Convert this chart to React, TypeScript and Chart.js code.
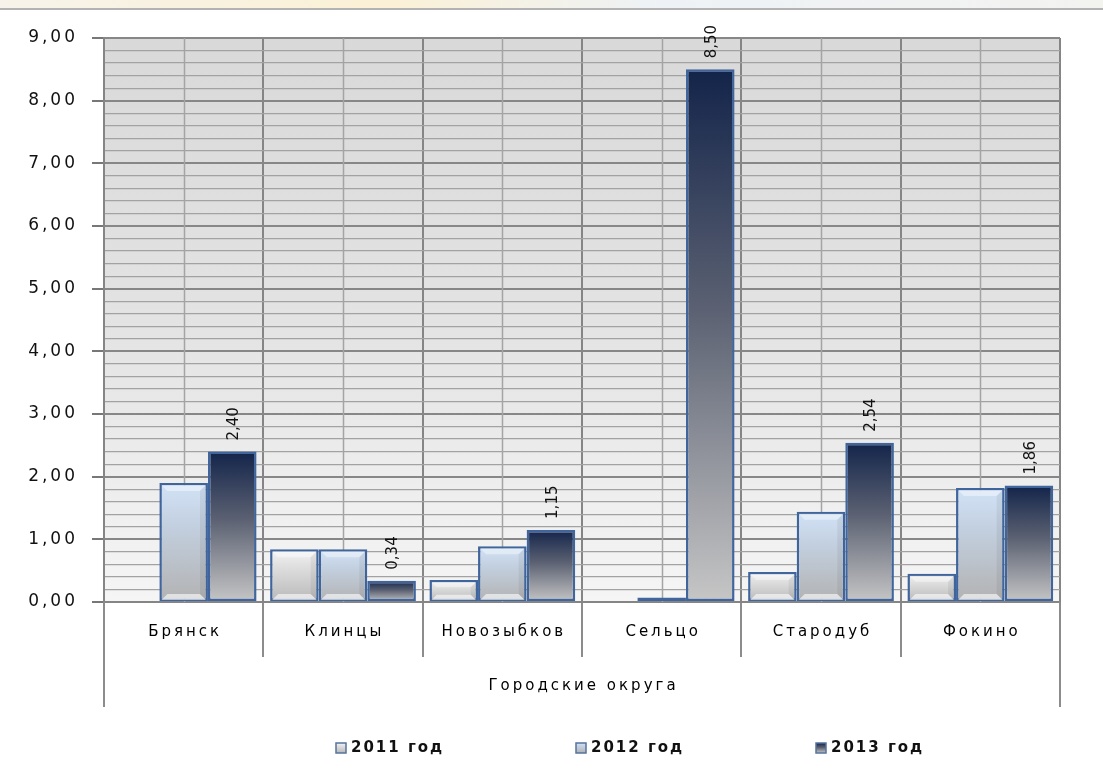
import React, { useEffect, useRef } from 'react';
import { Chart, registerables } from 'chart.js';

Chart.register(...registerables);

// ---------- data ----------
const categories = ['Брянск', 'Клинцы', 'Новозыбков', 'Сельцо', 'Стародуб', 'Фокино'];
const groupLabel = 'Городские округа';
const seriesNames = ['2011 год', '2012 год', '2013 год'];
const values2011: (number | null)[] = [null, 0.84, 0.35, null, 0.48, 0.45];
const values2012: (number | null)[] = [1.9, 0.84, 0.89, 0.07, 1.44, 1.82];
const values2013: (number | null)[] = [2.4, 0.34, 1.15, 8.5, 2.54, 1.86];
const yMin = 0;
const yMax = 9;
const yStep = 0.2;

// ---------- styles ----------
const W = 1103;
const H = 781;
const FONT = '"DejaVu Sans", Verdana, sans-serif';
const BAR_BORDER = '#3f659c';
const gradStops: [number, string][][] = [
  [[0, '#f5f5f5'], [0.3, '#e0e0e0'], [1, '#b8b8b8']],
  [[0, '#d2e3f7'], [0.35, '#c3d0e0'], [1, '#b2b2b2']],
  [[0, '#13244a'], [0.45, '#5b6172'], [1, '#c6c6c6']],
];
const legendX = [336, 576, 816];
const legendY = 748;

const fmt = (v: number) => v.toFixed(2).replace('.', ',');
const isMajor = (v: number) => Math.abs(v - Math.round(v)) < 1e-6;

function makeGrad(ctx: CanvasRenderingContext2D, stops: [number, string][], y0: number, y1: number) {
  const g = ctx.createLinearGradient(0, y0, 0, y1);
  stops.forEach(([o, c]) => g.addColorStop(o, c));
  return g;
}

function spacedText(ctx: CanvasRenderingContext2D, text: string, x: number, y: number, spacing: number, align: CanvasTextAlign) {
  (ctx as any).letterSpacing = spacing + 'px';
  ctx.textAlign = align;
  let dx = 0;
  if (align === 'center') dx = spacing / 2;
  if (align === 'right') dx = spacing;
  ctx.fillText(text, x + dx, y);
  (ctx as any).letterSpacing = '0px';
}

const decorPlugin = {
  id: 'decor',
  beforeDraw(chart: any) {
    const ctx: CanvasRenderingContext2D = chart.ctx;
    const { left, right, top, bottom } = chart.chartArea;
    ctx.save();
    ctx.fillStyle = '#ffffff';
    ctx.fillRect(0, 0, W, H);
    const tg = ctx.createLinearGradient(0, 0, W, 0);
    tg.addColorStop(0, '#f7f3ea');
    tg.addColorStop(0.35, '#fbf1d6');
    tg.addColorStop(0.6, '#eef2f6');
    tg.addColorStop(1, '#f3f3f0');
    ctx.fillStyle = tg;
    ctx.fillRect(0, 0, W, 8);
    ctx.strokeStyle = '#9a9a9a';
    ctx.lineWidth = 1.5;
    ctx.beginPath();
    ctx.moveTo(0, 9);
    ctx.lineTo(W, 9);
    ctx.stroke();
    const bg = ctx.createLinearGradient(0, top, 0, bottom);
    bg.addColorStop(0, '#d9d9d9');
    bg.addColorStop(0.5, '#e3e3e3');
    bg.addColorStop(1, '#f5f5f5');
    ctx.fillStyle = bg;
    ctx.fillRect(left, top, right - left, bottom - top);
    ctx.restore();
    (ctx as any).letterSpacing = '3px';
  },
  beforeDatasetsDraw(chart: any) {
    const ctx: CanvasRenderingContext2D = chart.ctx;
    const { top, bottom } = chart.chartArea;
    const x = chart.scales.x;
    (ctx as any).letterSpacing = '0px';
    ctx.save();
    ctx.strokeStyle = '#a4a4a4';
    ctx.lineWidth = 1.5;
    categories.forEach((_, i) => {
      const px = Math.round(x.getPixelForValue(i)) + 0.5;
      ctx.beginPath();
      ctx.moveTo(px, top);
      ctx.lineTo(px, bottom);
      ctx.stroke();
    });
    ctx.restore();
  },
  afterDatasetsDraw(chart: any) {
    const ctx: CanvasRenderingContext2D = chart.ctx;
    chart.data.datasets.forEach((ds: any, di: number) => {
      if (di === 2) return;
      const meta = chart.getDatasetMeta(di);
      meta.data.forEach((el: any, i: number) => {
        if (ds.data[i] == null) return;
        const { x, y, base, width } = el.getProps(['x', 'y', 'base', 'width'], true);
        const h = base - y;
        if (h < 10) return;
        const l = x - width / 2 + 2;
        const r = x + width / 2 - 2;
        const t = y + 2;
        const b = base - 1;
        const bw = Math.min(6, h / 4);
        ctx.save();
        ctx.fillStyle = 'rgba(255,255,255,0.6)';
        ctx.beginPath();
        ctx.moveTo(l, b);
        ctx.lineTo(r, b);
        ctx.lineTo(r - bw, b - bw);
        ctx.lineTo(l + bw, b - bw);
        ctx.closePath();
        ctx.fill();
        ctx.fillStyle = 'rgba(255,255,255,0.4)';
        ctx.beginPath();
        ctx.moveTo(l, t);
        ctx.lineTo(r, t);
        ctx.lineTo(r - bw, t + bw);
        ctx.lineTo(l + bw, t + bw);
        ctx.closePath();
        ctx.fill();
        ctx.fillStyle = 'rgba(0,0,0,0.06)';
        ctx.beginPath();
        ctx.moveTo(r, t);
        ctx.lineTo(r, b);
        ctx.lineTo(r - bw, b - bw);
        ctx.lineTo(r - bw, t + bw);
        ctx.closePath();
        ctx.fill();
        ctx.restore();
      });
    });
    const meta = chart.getDatasetMeta(2);
    ctx.save();
    ctx.fillStyle = '#111';
    ctx.font = `15px ${FONT}`;
    ctx.textBaseline = 'middle';
    ctx.textAlign = 'left';
    meta.data.forEach((el: any, i: number) => {
      const v = values2013[i];
      if (v == null) return;
      ctx.save();
      ctx.translate(el.x + 2, el.y - 11);
      ctx.rotate(-Math.PI / 2);
      ctx.fillText(fmt(v), 0, 0);
      ctx.restore();
    });
    ctx.restore();
  },
  afterDraw(chart: any) {
    const ctx: CanvasRenderingContext2D = chart.ctx;
    const { left, right, bottom } = chart.chartArea;
    const x = chart.scales.x;
    ctx.save();
    ctx.strokeStyle = '#8c8c8c';
    ctx.lineWidth = 2;
    [left, right].forEach((px) => {
      ctx.beginPath();
      ctx.moveTo(px, bottom);
      ctx.lineTo(px, bottom + 105);
      ctx.stroke();
    });
    ctx.fillStyle = '#000';
    ctx.font = `15px ${FONT}`;
    ctx.textBaseline = 'middle';
    categories.forEach((c, i) => {
      spacedText(ctx, c, x.getPixelForValue(i), bottom + 30, 3, 'center');
    });
    spacedText(ctx, groupLabel, (left + right) / 2, bottom + 84, 3, 'center');
    ctx.font = `bold 15px ${FONT}`;
    seriesNames.forEach((n, i) => {
      const bx = legendX[i];
      const by = legendY - 5;
      ctx.fillStyle = makeGrad(ctx, gradStops[i], by, by + 10);
      ctx.fillRect(bx, by, 10, 10);
      ctx.strokeStyle = '#56739e';
      ctx.lineWidth = 1.5;
      ctx.strokeRect(bx, by, 10, 10);
      ctx.fillStyle = '#111';
      spacedText(ctx, n, bx + 15, legendY, 2, 'left');
    });
    ctx.restore();
  },
};

export default function App() {
  const ref = useRef<HTMLCanvasElement>(null);
  useEffect(() => {
    if (!ref.current) return;
    const seriesValues = [values2011, values2012, values2013];
    const chart = new Chart(ref.current, {
      type: 'bar',
      data: {
        labels: categories,
        datasets: seriesValues.map((vals, di) => ({
          label: seriesNames[di],
          data: vals,
          backgroundColor: (c: any) => {
            const ch = c.chart;
            if (c.type !== 'data' || !ch.chartArea) return gradStops[di][0][1];
            const v = c.raw;
            if (v == null) return 'transparent';
            const ys = ch.scales.y;
            return makeGrad(ch.ctx, gradStops[di], ys.getPixelForValue(v), ys.getPixelForValue(0));
          },
          borderColor: BAR_BORDER,
          borderWidth: 2.5,
          borderSkipped: false,
          categoryPercentage: 0.915,
          barPercentage: 1.0,
        })),
      },
      options: {
        responsive: false,
        animation: false,
        devicePixelRatio: 1,
        layout: { padding: { top: 38, right: 43, bottom: 0, left: 0 } },
        plugins: { legend: { display: false }, tooltip: { enabled: false } },
        scales: {
          x: {
            offset: true,
            grid: {
              offset: true,
              color: '#858585',
              lineWidth: 2,
              drawTicks: true,
              tickLength: 55,
              tickColor: '#8c8c8c',
              tickWidth: 2,
            },
            border: { display: true, color: '#858585', width: 2 },
            ticks: { display: false },
            afterFit: (s: any) => {
              s.height = H - 602;
            },
          },
          y: {
            min: yMin,
            max: yMax,
            ticks: {
              stepSize: yStep,
              autoSkip: false,
              maxTicksLimit: 200,
              padding: 14,
              color: '#111',
              font: { family: FONT, size: 17 },
              callback: (v: any) => (isMajor(Number(v)) ? fmt(Number(v)) : ''),
            },
            grid: {
              color: (c: any) => (isMajor(c.tick.value) ? '#878787' : '#a2a2a2'),
              lineWidth: (c: any) => (isMajor(c.tick.value) ? 2 : 1.2),
              drawTicks: true,
              tickLength: 12,
              tickColor: (c: any) => (isMajor(c.tick.value) ? '#777' : 'rgba(0,0,0,0)'),
              tickWidth: 2,
            },
            border: { display: true, color: '#858585', width: 2 },
            afterFit: (s: any) => {
              s.width = 104;
            },
          },
        },
      },
      plugins: [decorPlugin],
    } as any);
    return () => chart.destroy();
  }, []);
  return (
    <canvas
      ref={ref}
      width={W}
      height={H}
      style={{ position: 'absolute', left: 0, top: 0, width: W, height: H, display: 'block' }}
    />
  );
}
